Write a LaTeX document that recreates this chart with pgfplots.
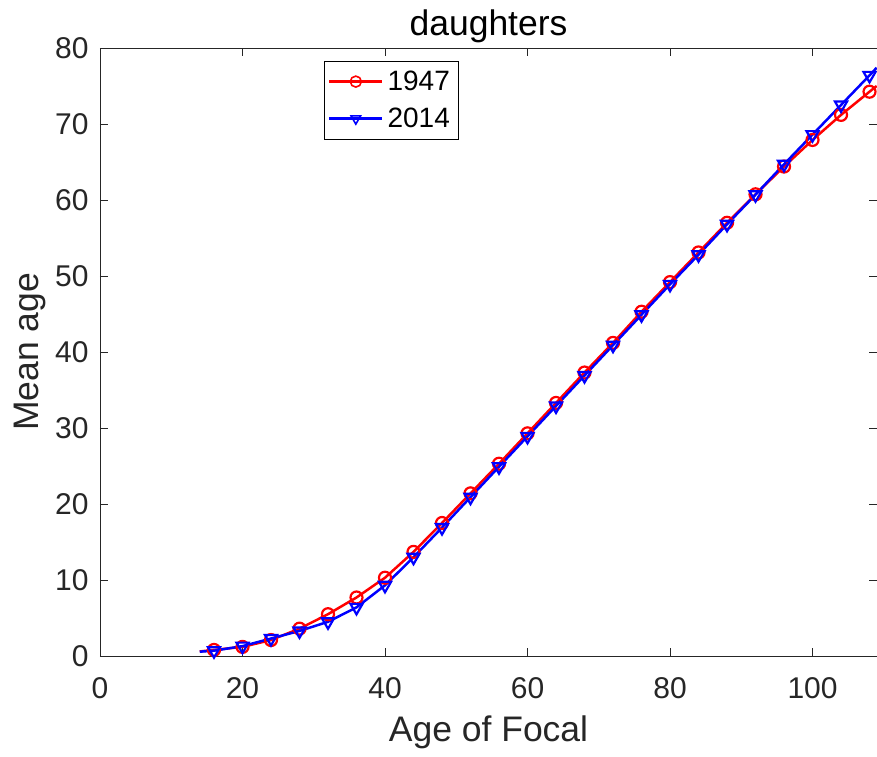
\documentclass[border=0pt]{standalone}
\usepackage{fontspec}
\setmainfont{Liberation Sans}
\usepackage{pgfplots}
\pgfplotsset{compat=1.18}
\definecolor{axgray}{gray}{0.15}
\begin{document}
\begin{tikzpicture}[x=1pt,y=1pt]
\begin{axis}[
  at={(0,0)}, anchor=south west,
  scale only axis, width=777pt, height=608pt,
  xmin=0, xmax=109.05, ymin=0, ymax=80,
  xtick={0,20,...,100}, ytick={0,10,...,80},
  tick align=inside, major tick length=8pt,
  axis line style={axgray, line width=0.8pt},
  tick style={axgray, line width=0.8pt},
  ticklabel style={font=\fontsize{30}{32}\selectfont, text=axgray},
  xticklabel style={yshift=-18pt},
  yticklabel style={xshift=-8pt},
  /pgf/number format/assume math mode=true,
  xlabel={Age of Focal}, ylabel={Mean age},
  label style={font=\fontsize{35.5}{38}\selectfont, text=axgray},
  xlabel style={yshift=-10pt},
  ylabel style={yshift=2pt},
  title={daughters},
  title style={font=\fontsize{35.5}{38}\selectfont, yshift=-4pt},
  legend style={at={(0.288,0.979)}, anchor=north west,
    font=\fontsize{28}{30}\selectfont, draw=black, line width=0.6pt,
    inner xsep=4pt, inner ysep=6pt, row sep=8pt,
    nodes={inner xsep=4pt, inner ysep=4pt}},
  legend cell align=left,
  legend image code/.code={\draw[mark indices={2}, mark size=5.5pt, every mark/.append style={line width=1.6pt}] plot coordinates {(0pt,0pt) (26.5pt,0pt) (53pt,0pt)};},
]
\addplot[red, line width=2.5pt, mark=o, mark size=6pt, mark options={line width=2.2pt}, mark indices={2,...,25}] coordinates {
(14,0.6) (16,0.8) (20,1.2) (24,2.1) (28,3.6) (32,5.5) (36,7.7) (40,10.3)
(44,13.7) (48,17.5) (52,21.4) (56,25.3) (60,29.3) (64,33.3) (68,37.3) (72,41.2)
(76,45.3) (80,49.2) (84,53.1) (88,57.0) (92,60.75) (96,64.4) (100,67.9) (104,71.2)
(108,74.25) (109,75.0)
};
\addlegendentry{1947}
\addplot[blue, line width=2.5pt, mark=triangle, mark size=7pt, mark options={line width=2.2pt, rotate=180}, mark indices={2,...,25}] coordinates {
(14,0.57) (16,0.7) (20,1.3) (24,2.3) (28,3.3) (32,4.5) (36,6.4) (40,9.3)
(44,13.0) (48,16.9) (52,20.9) (56,24.9) (60,28.9) (64,32.9) (68,36.9) (72,40.9)
(76,44.9) (80,48.9) (84,52.8) (88,56.8) (92,60.7) (96,64.7) (100,68.6) (104,72.5)
(108,76.4) (109,77.4)
};
\addlegendentry{2014}
\end{axis}
\pgfresetboundingbox
\useasboundingbox (-100,-100) rectangle (777,656);
\end{tikzpicture}
\end{document}
